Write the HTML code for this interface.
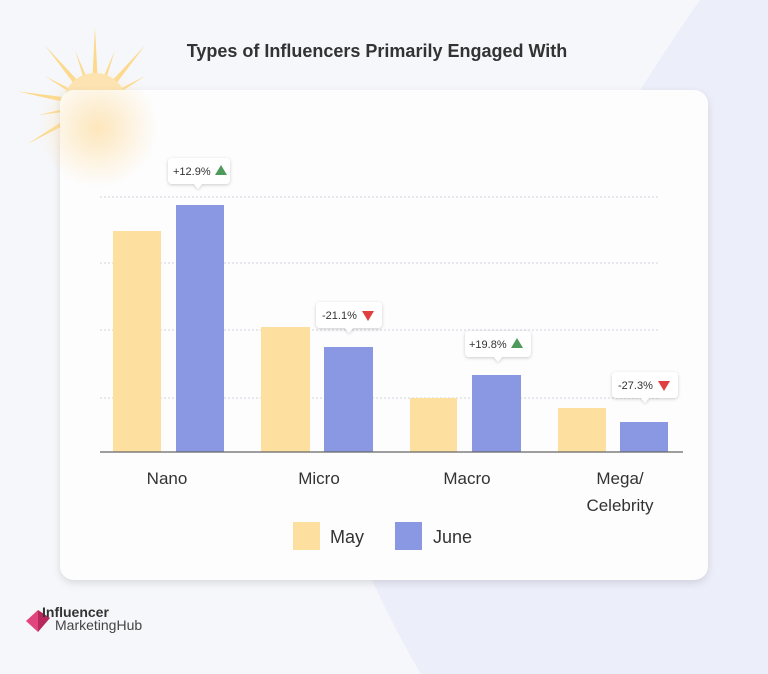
<!DOCTYPE html>
<html><head><style>
html,body{margin:0;padding:0;width:768px;height:674px;overflow:hidden;background:#f6f7fb}
svg text{font-family:"Liberation Sans",sans-serif}
</style></head><body>
<svg width="768" height="674" viewBox="0 0 768 674" xmlns="http://www.w3.org/2000/svg">
<defs>
<filter id="sh" x="-10%" y="-10%" width="120%" height="120%"><feDropShadow dx="0" dy="3" stdDeviation="4" flood-color="#000" flood-opacity="0.12"/></filter>
<filter id="sh2" x="-30%" y="-30%" width="160%" height="160%"><feDropShadow dx="0" dy="1" stdDeviation="1.5" flood-color="#000" flood-opacity="0.2"/></filter>
<radialGradient id="glow" cx="0.5" cy="0.5" r="0.5"><stop offset="0" stop-color="#fde4b4" stop-opacity="0.9"/><stop offset="1" stop-color="#fde4b4" stop-opacity="0"/></radialGradient>
</defs>
<rect width="768" height="674" fill="#f6f7fb"/>
<path d="M700 0 Q560 200 372 580 L421 674 L768 674 L768 0 Z" fill="#eceefa"/>
<path d="M372 580 Q400 640 421 674 L768 674 L768 580 Z" fill="#eceefa"/>
<!-- sun -->
<g transform="translate(95,105)" fill="#fcd98c">
<polygon id="ray" points="-4,0 4,0 0,-78"/>
<polygon id="ray2" points="-3,0 3,0 0,-58" transform="rotate(20)"/>
<use href="#ray" transform="rotate(40)"/><use href="#ray2" transform="rotate(40)"/><use href="#ray" transform="rotate(80)"/><use href="#ray2" transform="rotate(80)"/><use href="#ray" transform="rotate(120)"/><use href="#ray2" transform="rotate(120)"/><use href="#ray" transform="rotate(160)"/><use href="#ray2" transform="rotate(160)"/><use href="#ray" transform="rotate(200)"/><use href="#ray2" transform="rotate(200)"/><use href="#ray" transform="rotate(240)"/><use href="#ray2" transform="rotate(240)"/><use href="#ray" transform="rotate(280)"/><use href="#ray2" transform="rotate(280)"/><use href="#ray" transform="rotate(320)"/><use href="#ray2" transform="rotate(320)"/>
<circle r="32" fill="#fce3b0"/>
</g>
<text x="377" y="57" font-size="18" font-weight="600" fill="#333" text-anchor="middle">Types of Influencers Primarily Engaged With</text>
<rect x="60" y="90" width="648" height="490" rx="14" fill="#fdfdfe" filter="url(#sh)"/>
<circle cx="98" cy="128" r="60" fill="url(#glow)"/>
<!-- grid -->
<g stroke="#cfd2dc" stroke-dasharray="2,2" stroke-width="1">
<line x1="100" y1="197" x2="660" y2="197"/><line x1="100" y1="263" x2="660" y2="263"/><line x1="100" y1="330" x2="660" y2="330"/><line x1="100" y1="398" x2="660" y2="398"/>
</g>
<!-- bars -->
<g fill="#fddfa0">
<rect x="113" y="231" width="48" height="221"/><rect x="261" y="327" width="49" height="125"/><rect x="410" y="398" width="47" height="54"/><rect x="558" y="408" width="48" height="44"/>
</g>
<g fill="#8a97e2">
<rect x="176" y="205" width="48" height="247"/><rect x="324" y="347" width="49" height="105"/><rect x="472" y="375" width="49" height="77"/><rect x="620" y="422" width="48" height="30"/>
</g>
<line x1="100" y1="452" x2="683" y2="452" stroke="#666" stroke-width="1.2"/>
<!-- callouts -->
<g font-size="11" fill="#333">
<g filter="url(#sh2)"><path d="M172 158 h54 a4 4 0 0 1 4 4 v18 a4 4 0 0 1 -4 4 h-24 l-4 5 l-4 -5 h-22 a4 4 0 0 1 -4 -4 v-18 a4 4 0 0 1 4 -4z" fill="#fff"/></g>
<text x="173" y="175">+12.9%</text><polygon points="215,175 221,165 227,175" fill="#4d9a5a"/>
<g filter="url(#sh2)"><path d="M320 302 h58 a4 4 0 0 1 4 4 v18 a4 4 0 0 1 -4 4 h-25 l-4 5 l-4 -5 h-25 a4 4 0 0 1 -4 -4 v-18 a4 4 0 0 1 4 -4z" fill="#fff"/></g>
<text x="322" y="319">-21.1%</text><polygon points="362,311 374,311 368,321" fill="#e04040"/>
<g filter="url(#sh2)"><path d="M469 331 h58 a4 4 0 0 1 4 4 v18 a4 4 0 0 1 -4 4 h-25 l-4 5 l-4 -5 h-25 a4 4 0 0 1 -4 -4 v-18 a4 4 0 0 1 4 -4z" fill="#fff"/></g>
<text x="469" y="348">+19.8%</text><polygon points="511,348 517,338 523,348" fill="#4d9a5a"/>
<g filter="url(#sh2)"><path d="M616 372 h58 a4 4 0 0 1 4 4 v18 a4 4 0 0 1 -4 4 h-25 l-4 5 l-4 -5 h-25 a4 4 0 0 1 -4 -4 v-18 a4 4 0 0 1 4 -4z" fill="#fff"/></g>
<text x="618" y="389">-27.3%</text><polygon points="658,381 670,381 664,391" fill="#e04040"/>
</g>
<!-- labels -->
<g font-size="17" fill="#333" text-anchor="middle">
<text x="167" y="484">Nano</text><text x="319" y="484">Micro</text><text x="467" y="484">Macro</text><text x="620" y="484">Mega/</text><text x="620" y="511">Celebrity</text>
</g>
<rect x="293" y="522" width="27" height="28" fill="#fddfa0"/>
<text x="330" y="543" font-size="18" fill="#333">May</text>
<rect x="395" y="522" width="27" height="28" fill="#8a97e2"/>
<text x="433" y="543" font-size="18" fill="#333">June</text>
<!-- logo -->
<polygon points="38,610 26,621 38,632" fill="#e0457b"/>
<polygon points="38,610 50,618 38,632" fill="#b8285d"/>
<text x="42" y="617" font-size="14" font-weight="bold" fill="#333">Influencer</text>
<text x="55" y="630" font-size="14" fill="#444">MarketingHub</text>
</svg>
</body></html>
